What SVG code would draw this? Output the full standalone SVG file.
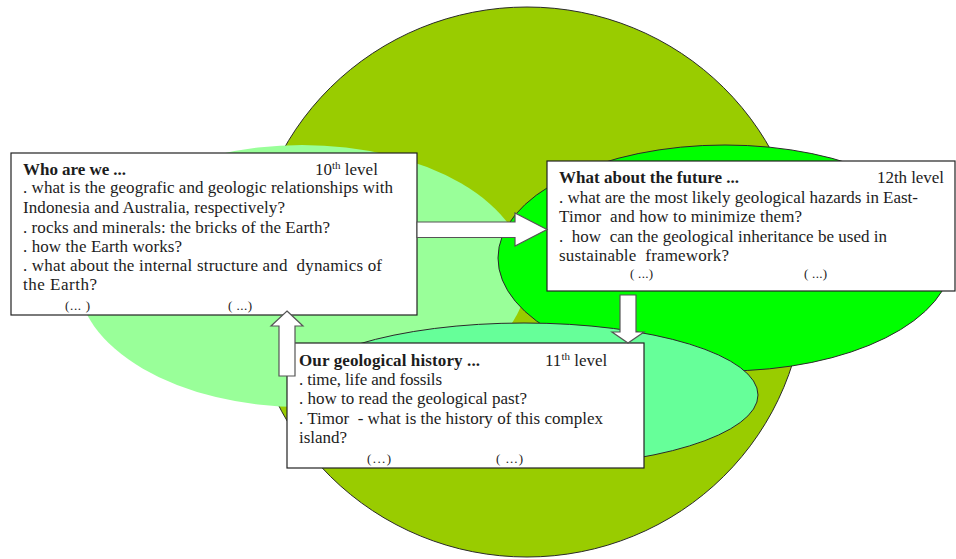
<svg xmlns="http://www.w3.org/2000/svg" width="956" height="559" viewBox="0 0 956 559">
<style>
.bg{stroke:#2a2a2a;stroke-width:1}
.box{fill:#fff;stroke:#222;stroke-width:1.2}
.t{font-family:"Liberation Serif","Times New Roman",serif;font-size:17px;fill:#1c1c1c}
.b{font-weight:bold}
.sup{font-size:11px}
.s{font-size:13px}
.arrow{fill:#fff;stroke:#555;stroke-width:1.2;stroke-linejoin:miter}
</style>
<rect width="956" height="559" fill="#fff"/>
<g id="background">
<ellipse class="bg" cx="527" cy="282" rx="278" ry="275" fill="#99CC00"/>
<ellipse cx="302" cy="276" rx="225" ry="131" fill="#99FF99"/>
<ellipse class="bg" cx="725" cy="258" rx="227" ry="113" fill="#00FF00"/>
<ellipse class="bg" cx="524" cy="395" rx="234" ry="72" fill="#66FF99"/>
</g>
<g id="node-who">
<rect class="box" x="11" y="153" width="406" height="162"/>
<text class="t b" x="23" y="175" textLength="103">Who are we ...</text>
<text class="t" x="315" y="175">10<tspan class="sup" dy="-6">th</tspan><tspan dy="6"> level</tspan></text>
<text class="t" x="23" y="193" textLength="370">. what is the geografic and geologic relationships with</text>
<text class="t" x="23" y="213" textLength="262">Indonesia and Australia, respectively?</text>
<text class="t" x="23" y="233" textLength="307">. rocks and minerals: the bricks of the Earth?</text>
<text class="t" x="23" y="252" textLength="159">. how the Earth works?</text>
<text class="t" x="23" y="271" textLength="359" xml:space="preserve">. what about the internal structure and  dynamics of</text>
<text class="t" x="23" y="290" textLength="74">the Earth?</text>
<text class="t s" x="65" y="310" textLength="25">(... )</text>
<text class="t s" x="228" y="310" textLength="24">( ...)</text>
</g>
<g id="node-future">
<rect class="box" x="547" y="161" width="408" height="130"/>
<text class="t b" x="559" y="183" textLength="180">What about the future ...</text>
<text class="t" x="877" y="183" textLength="67">12th level</text>
<text class="t" x="559" y="203" textLength="359">. what are the most likely geological hazards in East-</text>
<text class="t" x="559" y="222" textLength="243" xml:space="preserve">Timor  and how to minimize them?</text>
<text class="t" x="559" y="242" textLength="328" xml:space="preserve">.  how  can the geological inheritance be used in</text>
<text class="t" x="559" y="261" textLength="170" xml:space="preserve">sustainable  framework?</text>
<text class="t s" x="630" y="278" textLength="23">( ...)</text>
<text class="t s" x="804" y="278" textLength="23">( ...)</text>
</g>
<g id="node-history">
<rect class="box" x="287" y="343" width="357" height="125"/>
<text class="t b" x="299" y="366" textLength="181">Our geological history ...</text>
<text class="t" x="545" y="366">11<tspan class="sup" dy="-6">th</tspan><tspan dy="6"> level</tspan></text>
<text class="t" x="299" y="385" textLength="143">. time, life and fossils</text>
<text class="t" x="299" y="404" textLength="228">. how to read the geological past?</text>
<text class="t" x="299" y="424" textLength="304" xml:space="preserve">. Timor  - what is the history of this complex</text>
<text class="t" x="299" y="443" textLength="48">island?</text>
<text class="t s" x="367" y="463" textLength="24">(...)</text>
<text class="t s" x="496" y="463" textLength="27">( ...)</text>
</g>
<g id="connectors">
<polygon class="arrow" points="417,222 515,222 515,213 547,229.5 515,246 515,237.5 417,237.5"/>
<polygon class="arrow" points="620,295 636,295 636,332 644,332 628,343 612,332 620,332"/>
<polygon class="arrow" points="287,311 303,326 295,326 295,376 279,376 279,326 271,326"/>
</g>
</svg>
